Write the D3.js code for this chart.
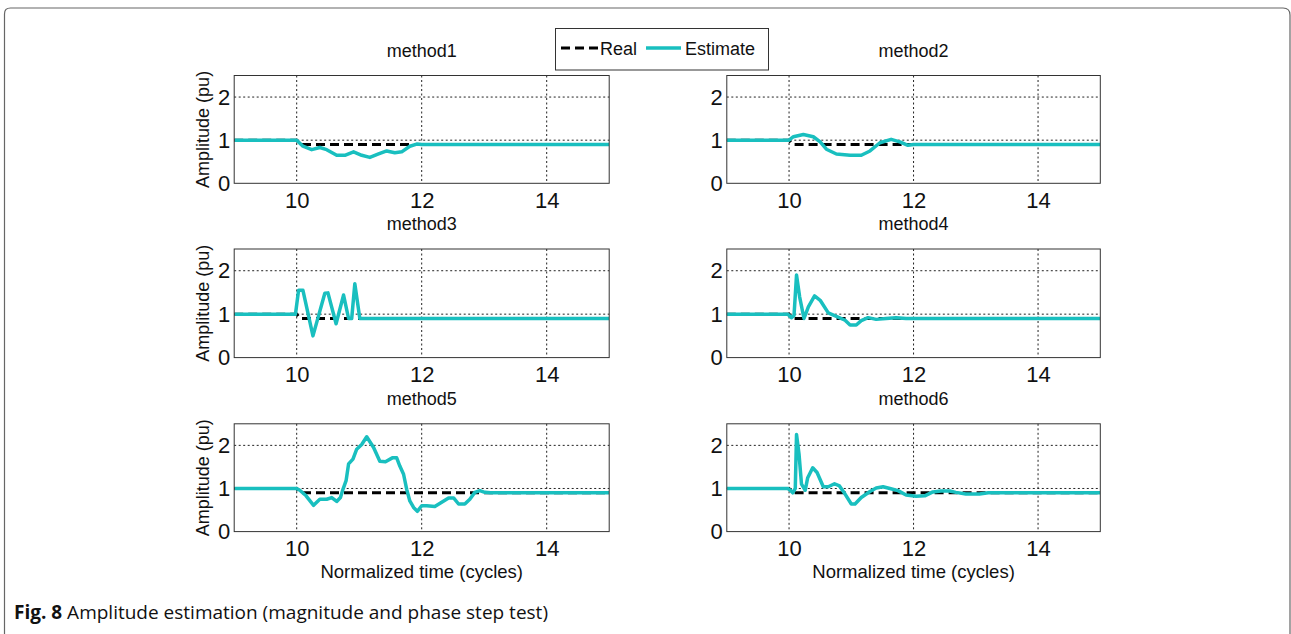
<!DOCTYPE html>
<html>
<head>
<meta charset="utf-8">
<script src="https://cdn.jsdelivr.net/npm/d3@7"></script>
<style>
  html, body { margin: 0; padding: 0; background: #fff; }
  svg text { font-family: "Liberation Sans", Arial, sans-serif; fill: #111; }
  .caption { font-family: "Open Sans", "Noto Sans", sans-serif; }
</style>
</head>
<body>
<svg id="chart" width="1291" height="634"></svg>
<script>
// ---- data ----
const titles = ["method1", "method2", "method3", "method4", "method5", "method6"];
const xTicks = [10, 12, 14];
const yTicks = [0, 1, 2];
const xDomain = [9, 15];
const yDomain = [0, 2.5];

// Reference amplitude: magnitude step from 1 pu to 0.9 pu at cycle 10
const realCurve = [[9, 1], [10, 1], [10.05, 0.9], [15, 0.9]];

// Estimated amplitude for each method, [time (cycles), amplitude (pu)]
const method1 = [[9, 1], [10, 1], [10.1, 0.86], [10.24, 0.78], [10.37, 0.83], [10.48, 0.78],
  [10.64, 0.65], [10.77, 0.65], [10.91, 0.73], [11.04, 0.65], [11.17, 0.6], [11.31, 0.68],
  [11.44, 0.75], [11.57, 0.71], [11.68, 0.73], [11.81, 0.86], [11.92, 0.91], [12, 0.9], [15, 0.9]];
const method2 = [[9, 1], [10, 1], [10.07, 1.08], [10.23, 1.13], [10.39, 1.08], [10.5, 0.96],
  [10.6, 0.79], [10.76, 0.68], [10.98, 0.65], [11.16, 0.65], [11.3, 0.75], [11.46, 0.94],
  [11.64, 1.02], [11.78, 0.96], [11.91, 0.88], [12, 0.9], [15, 0.9]];
const method3 = [[9, 1], [9.98, 1], [10.03, 1.55], [10.1, 1.55], [10.26, 0.5], [10.45, 1.48],
  [10.5, 1.49], [10.63, 0.78], [10.75, 1.44], [10.83, 0.9], [10.88, 0.9], [10.93, 1.7],
  [11.01, 0.9], [15, 0.9]];
const method4 = [[9, 1], [9.98, 1], [10.04, 0.92], [10.08, 0.97], [10.12, 1.9], [10.17, 1.4],
  [10.24, 0.9], [10.31, 1.17], [10.41, 1.42], [10.5, 1.32], [10.63, 1.03], [10.76, 0.95],
  [10.9, 0.86], [10.98, 0.75], [11.08, 0.75], [11.16, 0.85], [11.27, 0.92], [11.4, 0.88],
  [11.56, 0.9], [11.72, 0.92], [11.88, 0.9], [15, 0.9]];
const method5 = [[9, 1], [10, 1], [10.05, 0.96], [10.15, 0.83], [10.27, 0.61], [10.37, 0.75],
  [10.48, 0.75], [10.56, 0.79], [10.64, 0.7], [10.7, 0.79], [10.74, 0.98], [10.79, 1.18],
  [10.83, 1.57], [10.9, 1.68], [10.96, 1.91], [11.04, 2.02], [11.12, 2.2], [11.23, 1.95],
  [11.33, 1.63], [11.42, 1.62], [11.53, 1.71], [11.6, 1.71], [11.65, 1.52], [11.71, 1.33],
  [11.76, 0.98], [11.81, 0.71], [11.87, 0.56], [11.93, 0.47], [12, 0.6], [12.08, 0.6],
  [12.21, 0.58], [12.32, 0.68], [12.43, 0.78], [12.51, 0.78], [12.59, 0.64], [12.69, 0.64],
  [12.77, 0.75], [12.85, 0.91], [12.93, 0.95], [13.01, 0.91], [13.1, 0.9], [15, 0.9]];
const method6 = [[9, 1], [9.98, 1], [10.02, 0.96], [10.06, 0.9], [10.1, 1.0], [10.12, 2.25],
  [10.16, 1.8], [10.2, 1.1], [10.26, 0.96], [10.3, 1.25], [10.38, 1.48], [10.45, 1.37],
  [10.55, 1.04], [10.63, 1.04], [10.73, 1.11], [10.81, 1.06], [10.9, 0.87], [11.0, 0.64],
  [11.06, 0.64], [11.16, 0.79], [11.3, 0.93], [11.4, 1.01], [11.51, 1.04], [11.62, 1.0],
  [11.75, 0.95], [11.88, 0.85], [12.04, 0.82], [12.18, 0.83], [12.31, 0.92], [12.44, 0.94],
  [12.58, 0.94], [12.68, 0.91], [12.84, 0.87], [13.06, 0.87], [13.2, 0.9], [15, 0.9]];
const estimates = [method1, method2, method3, method4, method5, method6];

// ---- layout ----
const svg = d3.select("#chart");
const cols = [[234.2, 609.2], [726.8, 1100.3]];
const rows = [[75.5, 183.3], [249, 357.6], [423.8, 531.6]];
const teal = "#19BFBF";

// page frame
svg.append("path")
  .attr("d", "M4.5,700 L4.5,14 Q4.5,8 10.5,8 L1283,8 Q1290,8 1290,15 L1290,700")
  .attr("fill", "none").attr("stroke", "#666").attr("stroke-width", 1.2);

titles.forEach((title, i) => {
  const c = i % 2, r = Math.floor(i / 2);
  const [x0, x1] = cols[c], [y0, y1] = rows[r];
  const x = d3.scaleLinear().domain(xDomain).range([x0, x1]);
  const y = d3.scaleLinear().domain(yDomain).range([y1, y0]);
  const g = svg.append("g");

  // dotted grid
  g.selectAll(".gx").data(xTicks).join("line")
    .attr("x1", d => x(d)).attr("x2", d => x(d)).attr("y1", y0).attr("y2", y1)
    .attr("stroke", "#222").attr("stroke-width", 1).attr("stroke-dasharray", "2,2.5");
  g.selectAll(".gy").data(yTicks.filter(v => v > 0)).join("line")
    .attr("x1", x0).attr("x2", x1).attr("y1", d => y(d)).attr("y2", d => y(d))
    .attr("stroke", "#222").attr("stroke-width", 1).attr("stroke-dasharray", "2,2.5");

  // axes (tick labels only, box drawn separately)
  const xa = g.append("g").attr("transform", `translate(0,${y1})`)
    .call(d3.axisBottom(x).tickValues(xTicks).tickSize(0).tickPadding(9).tickFormat(d3.format("d")));
  const ya = g.append("g").attr("transform", `translate(${x0},0)`)
    .call(d3.axisLeft(y).tickValues(yTicks).tickSize(0).tickPadding(4).tickFormat(d3.format("d")));
  [xa, ya].forEach(a => {
    a.select(".domain").remove();
    a.selectAll("text").attr("font-size", 22).attr("fill", "#111")
      .style("font-family", '"Liberation Sans", Arial, sans-serif');
  });

  // clip for curves
  const clipId = "clip" + i;
  svg.append("clipPath").attr("id", clipId).append("rect")
    .attr("x", x0).attr("y", y0).attr("width", x1 - x0).attr("height", y1 - y0);

  const line = d3.line().x(d => x(d[0])).y(d => y(d[1]));
  const curves = g.append("g").attr("clip-path", `url(#${clipId})`);
  curves.append("path").datum(realCurve).attr("d", line)
    .attr("fill", "none").attr("stroke", "#000").attr("stroke-width", 3)
    .attr("stroke-dasharray", "9,5");
  curves.append("path").datum(estimates[i]).attr("d", line)
    .attr("fill", "none").attr("stroke", teal).attr("stroke-width", 3.5)
    .attr("stroke-linejoin", "round");

  // box
  g.append("rect").attr("x", x0).attr("y", y0).attr("width", x1 - x0).attr("height", y1 - y0)
    .attr("fill", "none").attr("stroke", "#333").attr("stroke-width", 1);

  // title
  g.append("text").attr("x", (x0 + x1) / 2).attr("y", y0 - 19)
    .attr("text-anchor", "middle").attr("font-size", 18).text(title);

  if (c === 0) {
    g.append("text")
      .attr("transform", `translate(${x0 - 25},${(y0 + y1) / 2}) rotate(-90)`)
      .attr("text-anchor", "middle").attr("font-size", 18).text("Amplitude (pu)");
  }
  if (r === 2) {
    g.append("text").attr("x", (x0 + x1) / 2).attr("y", y1 + 46.5)
      .attr("text-anchor", "middle").attr("font-size", 18.5).text("Normalized time (cycles)");
  }
});

// legend
const lg = svg.append("g");
lg.append("rect").attr("x", 555.5).attr("y", 28.5).attr("width", 213).attr("height", 41.5)
  .attr("fill", "#fff").attr("stroke", "#333").attr("stroke-width", 1);
lg.append("line").attr("x1", 561).attr("x2", 598).attr("y1", 48).attr("y2", 48)
  .attr("stroke", "#000").attr("stroke-width", 3).attr("stroke-dasharray", "9,5");
lg.append("text").attr("x", 600).attr("y", 54.5).attr("font-size", 18).text("Real");
lg.append("line").attr("x1", 646).attr("x2", 681).attr("y1", 48).attr("y2", 48)
  .attr("stroke", teal).attr("stroke-width", 3.5);
lg.append("text").attr("x", 685).attr("y", 54.5).attr("font-size", 18).text("Estimate");

// caption
const cap = svg.append("text").attr("class", "caption").attr("x", 14).attr("y", 618.5)
  .attr("font-size", 19);
cap.append("tspan").attr("font-weight", "bold").text("Fig. 8");
cap.append("tspan").text(" Amplitude estimation (magnitude and phase step test)");
</script>
</body>
</html>
